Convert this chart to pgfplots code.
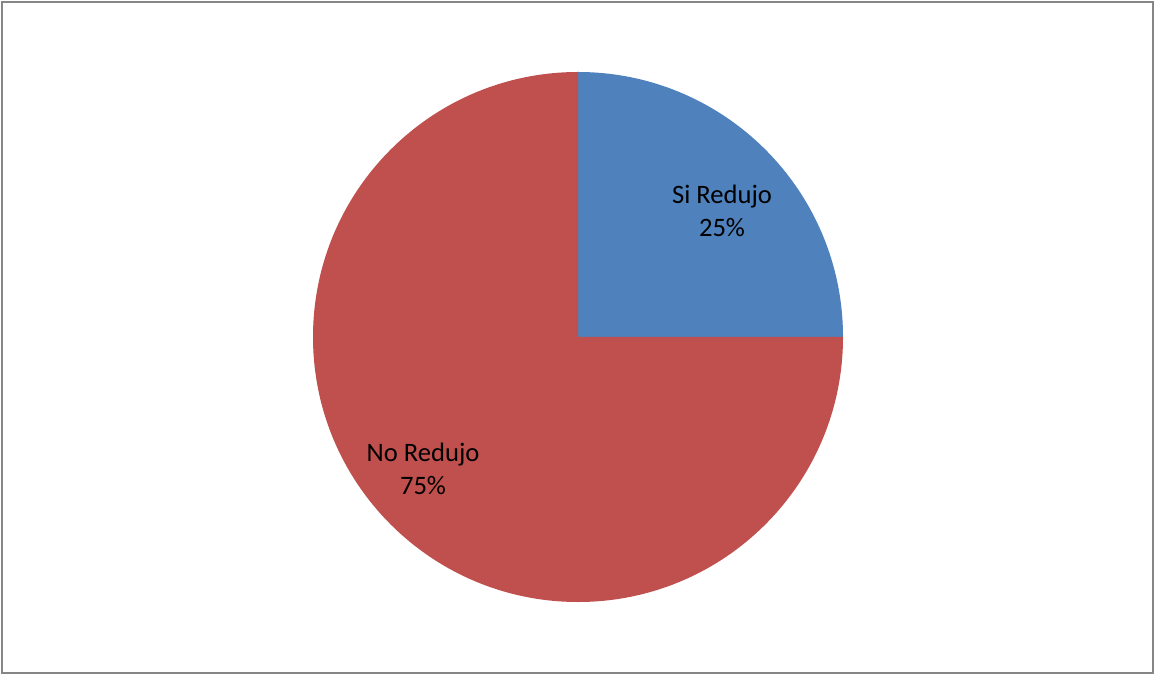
\documentclass[border=0pt]{standalone}
\usepackage{pgfplots}
\usepackage{pgfplotstable}
\usepackage{fontspec}
\setmainfont{Carlito}
\pgfplotsset{compat=1.18}
\definecolor{sliceblue}{HTML}{4F81BD}
\definecolor{slicered}{HTML}{C0504D}
\definecolor{framegray}{HTML}{868686}
\pgfplotstableread{
label value
{Si Redujo} 25
{No Redujo} 75
}\piedata
\begin{document}
\begin{tikzpicture}
\pgfplotstablegetelem{0}{value}\of\piedata \let\va\pgfplotsretval
\pgfplotstablegetelem{1}{value}\of\piedata \let\vb\pgfplotsretval
\pgfmathsetmacro{\angA}{90-360*\va/(\va+\vb)}
\begin{axis}[
  width=577.5pt, height=337.5pt, scale only axis,
  xmin=0, xmax=1155, ymin=0, ymax=675,
  hide axis, clip=false,
]
\addplot[draw=none] coordinates {(0,0) (1155,675)};
\fill[white] (axis cs:0,0) rectangle (axis cs:1155,675);
\draw[framegray, line width=1.1pt] (axis cs:2,2) rectangle (axis cs:1153,673);
% slices
\fill[sliceblue] (axis cs:578,338) -- ++(90:132.5pt) arc[start angle=90, end angle=\angA, radius=132.5pt] -- cycle;
\fill[slicered] (axis cs:578,338) -- ++(\angA:132.5pt) arc[start angle=\angA, end angle=-270, radius=132.5pt] -- cycle;
\node[align=center, font=\fontsize{13.3pt}{16.8pt}\selectfont, text=black] at (axis cs:722,464) {Si Redujo\\25\%};
\node[align=center, font=\fontsize{13.3pt}{16.8pt}\selectfont, text=black] at (axis cs:423,206) {No Redujo\\75\%};
\end{axis}
\end{tikzpicture}
\end{document}
